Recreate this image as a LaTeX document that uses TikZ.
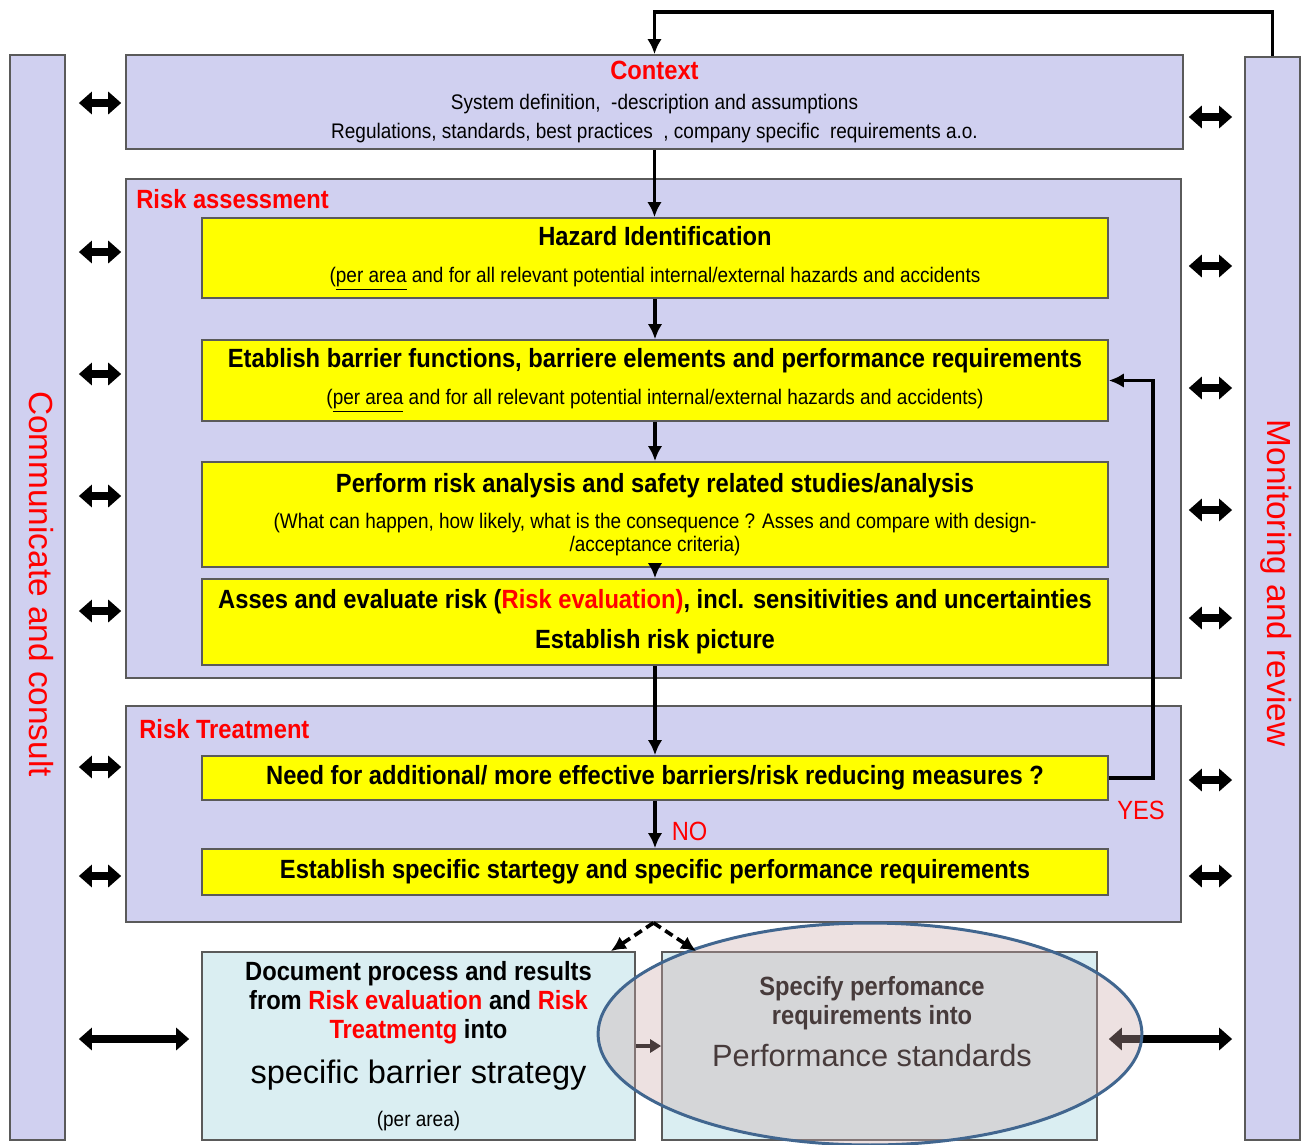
\documentclass[tikz,border=0pt]{standalone}
\usepackage{fontspec}
\setmainfont{Liberation Sans}
\newfontfamily\condfont[FakeStretch=0.9]{Liberation Sans}
\usetikzlibrary{arrows.meta,shapes.geometric}

\definecolor{lav}{RGB}{208,208,240}
\definecolor{frame}{RGB}{90,90,90}
\definecolor{docfill}{RGB}{218,238,242}
\definecolor{ovalfill}{RGB}{205,170,170}
\definecolor{ovalline}{RGB}{65,102,143}
\definecolor{ybright}{RGB}{255,255,0}

\newcommand{\headfont}{\condfont\bfseries\fontsize{15}{17}\selectfont}
\newcommand{\notefont}{\condfont\mdseries\fontsize{12}{14}\selectfont}
\newcommand{\ctxfont}{\condfont\fontsize{12}{16.5}\selectfont}
\newcommand{\docfont}{\condfont\bfseries\fontsize{15}{16.5}\selectfont}
\newcommand{\bigfont}{\normalfont\fontsize{18.5}{20}\selectfont}
\newcommand{\sidefont}{\normalfont\fontsize{19}{22}\selectfont}

\begin{document}
\begin{tikzpicture}[
  x=0.02cm, y=-0.02cm,
  lavbox/.style={draw=frame, fill=lav, line width=1pt, inner sep=0pt},
  side/.style={lavbox, minimum width=1.1cm},
  ybox/.style={draw=frame, fill=ybright, line width=1pt, inner sep=0pt, align=center,
               minimum width=18.12cm, font=\headfont},
  docbox/.style={draw=frame, fill=docfill, line width=1pt, inner sep=0pt, align=center,
                 minimum width=8.66cm, minimum height=3.76cm, font=\docfont},
  oval/.style={ellipse, draw=ovalline, line width=1.7pt, fill=ovalfill, fill opacity=0.35,
               minimum width=10.88cm, minimum height=4.44cm, inner sep=0pt},
  seclab/.style={font=\headfont, text=red, inner sep=0pt},
  yesno/.style={font=\condfont\fontsize{15}{17}\selectfont, text=red, inner sep=0pt},
  arr/.style={-{Latex[length=3mm,width=2.9mm]}, line width=2.1pt},
  dsh/.style={arr, dash pattern=on 5pt off 3pt},
  dbl/.style={{Triangle[length=2.6mm,width=4.4mm]}-{Triangle[length=2.6mm,width=4.4mm]},
              line width=4.5pt},
  small/.style={-{Triangle[length=2.2mm,width=2.6mm]}, line width=2.2pt}
]
\useasboundingbox (0,0) rectangle (1306,1144);
\fill[white] (0,0) rectangle (1306,1144);

% ---------------- side bars ----------------
\node[side, minimum height=21.7cm] (cc) at (37.5,597.5) {};
\node[side, minimum height=21.66cm] (mr) at (1272.5,598.5) {};
\node[font=\sidefont, text=red, rotate=-90, inner sep=0pt] (cctxt) at (41,584)
  {Communicate and consult};
\node[font=\sidefont, text=red, rotate=-90, inner sep=0pt] (mrtxt) at (1276,583)
  {Monitoring and review};

% ---------------- context ----------------
\node[lavbox, minimum width=21.14cm, minimum height=1.88cm, align=center, font=\ctxfont]
  (ctx) at (654.5,102)
  {{\headfont\textcolor{red}{Context}}\\[0.5pt]
   System definition, \ -description and assumptions\\
   Regulations, standards, best practices \ , company specific \ requirements a.o.};

% ---------------- risk assessment ----------------
\node[lavbox, minimum width=21.1cm, minimum height=9.98cm] (ra) at (653.5,428.5) {};
\node[seclab, anchor=west] (ralab) at (136,199) {Risk assessment};

\node[ybox, minimum height=1.6cm] (haz) at (655,258)
  {Hazard Identification\\[4pt]
   {\notefont (\underline{per area} and for all relevant potential internal/external hazards and accidents}};
\node[ybox, minimum height=1.62cm] (etab) at (655,380.5)
  {Etablish barrier functions, barriere elements and performance requirements\\[4pt]
   {\notefont (\underline{per area} and for all relevant potential internal/external hazards and accidents)}};
\node[ybox, minimum height=2.1cm] (perf) at (655,514.5)
  {Perform risk analysis and safety related studies/analysis\\[4pt]
   {\notefont (What can happen, how likely, what is the consequence ? Asses and compare with design-}\\[-4pt]
   {\notefont /acceptance criteria)}};
\node[ybox, minimum height=1.72cm] (asses) at (655,622)
  {Asses and evaluate risk (\textcolor{red}{Risk evaluation)}, incl. sensitivities and uncertainties\\[5.8pt]
   Establish risk picture};

% ---------------- risk treatment ----------------
\node[lavbox, minimum width=21.1cm, minimum height=4.32cm] (rt) at (653.5,814) {};
\node[seclab, anchor=west] (rtlab) at (139,729) {Risk Treatment};

\node[ybox, minimum height=0.88cm] (need) at (655,778)
  {Need for additional/ more effective barriers/risk reducing measures ?};
\node[ybox, minimum height=0.92cm] (estab) at (655,872)
  {Establish specific startegy and specific performance requirements};
\node[yesno] (yes) at (1141,810) {YES};

% ---------------- documentation ----------------
\node[docbox] (doc) at (418.5,1046)
  {Document process and results\\
   from \textcolor{red}{Risk evaluation} and \textcolor{red}{Risk}\\
   \textcolor{red}{Treatmentg} into\\[8pt]
   {\bigfont specific barrier strategy}\\[8pt]
   {\notefont (per area)}};
\node[docbox, minimum width=8.7cm] (spec) at (879.5,1046) {};
\node[font=\docfont, align=center, inner sep=0pt] (spectxt) at (872,1022)
  {Specify perfomance\\
   requirements into\\[7.5pt]
   {\normalfont\fontsize{17.5}{20}\selectfont Performance standards}};

% ---------------- flow ----------------
\draw[arr] (mr.north) -- (mr.north |- 0,12) -| (ctx.north);
\draw[arr] (ctx.south) -- (ctx.south |- haz.north);
\draw[arr] (haz) -- (etab);
\draw[arr] (etab) -- (perf);
\draw[arr] (perf) -- (asses);
\draw[arr] (asses) -- (need);
\draw[arr] (need) -- node[yesno, pos=0.65, right=0.3cm] (no) {NO} (estab);
\draw[arr] (need.east) -- ++(44,0) |- (etab.east);

% ---------------- exchange with the side bars ----------------
\foreach \ly/\ry in {103/117, 252/266, 374/388, 496/510, 611/618, 767/780, 876/876} {
  \draw[dbl] ([xshift=0.26cm]cc.east |- 0,\ly) -- ([xshift=-0.08cm]ctx.west |- 0,\ly);
  \draw[dbl] ([xshift=0.1cm]ctx.east |- 0,\ry) -- ([xshift=-0.24cm]mr.west |- 0,\ry);
}
\draw[dbl] ([xshift=0.26cm,yshift=0.14cm]cc.east |- doc.west) -- ([xshift=-0.24cm,yshift=0.14cm]doc.west);
\draw[dbl] ([xshift=0.22cm,yshift=0.14cm]spec.east) -- ([xshift=-0.24cm,yshift=0.14cm]mr.west |- spec.east);
\draw[small] (doc.east) -- (spec.west);

\node[oval] (stdoval) at (870,1034) {};

\draw[dsh] (rt.south) -- ([xshift=-0.5cm]doc.north east);
\draw[dsh] (rt.south) -- ([xshift=0.7cm]spec.north west);

\end{tikzpicture}
\end{document}
